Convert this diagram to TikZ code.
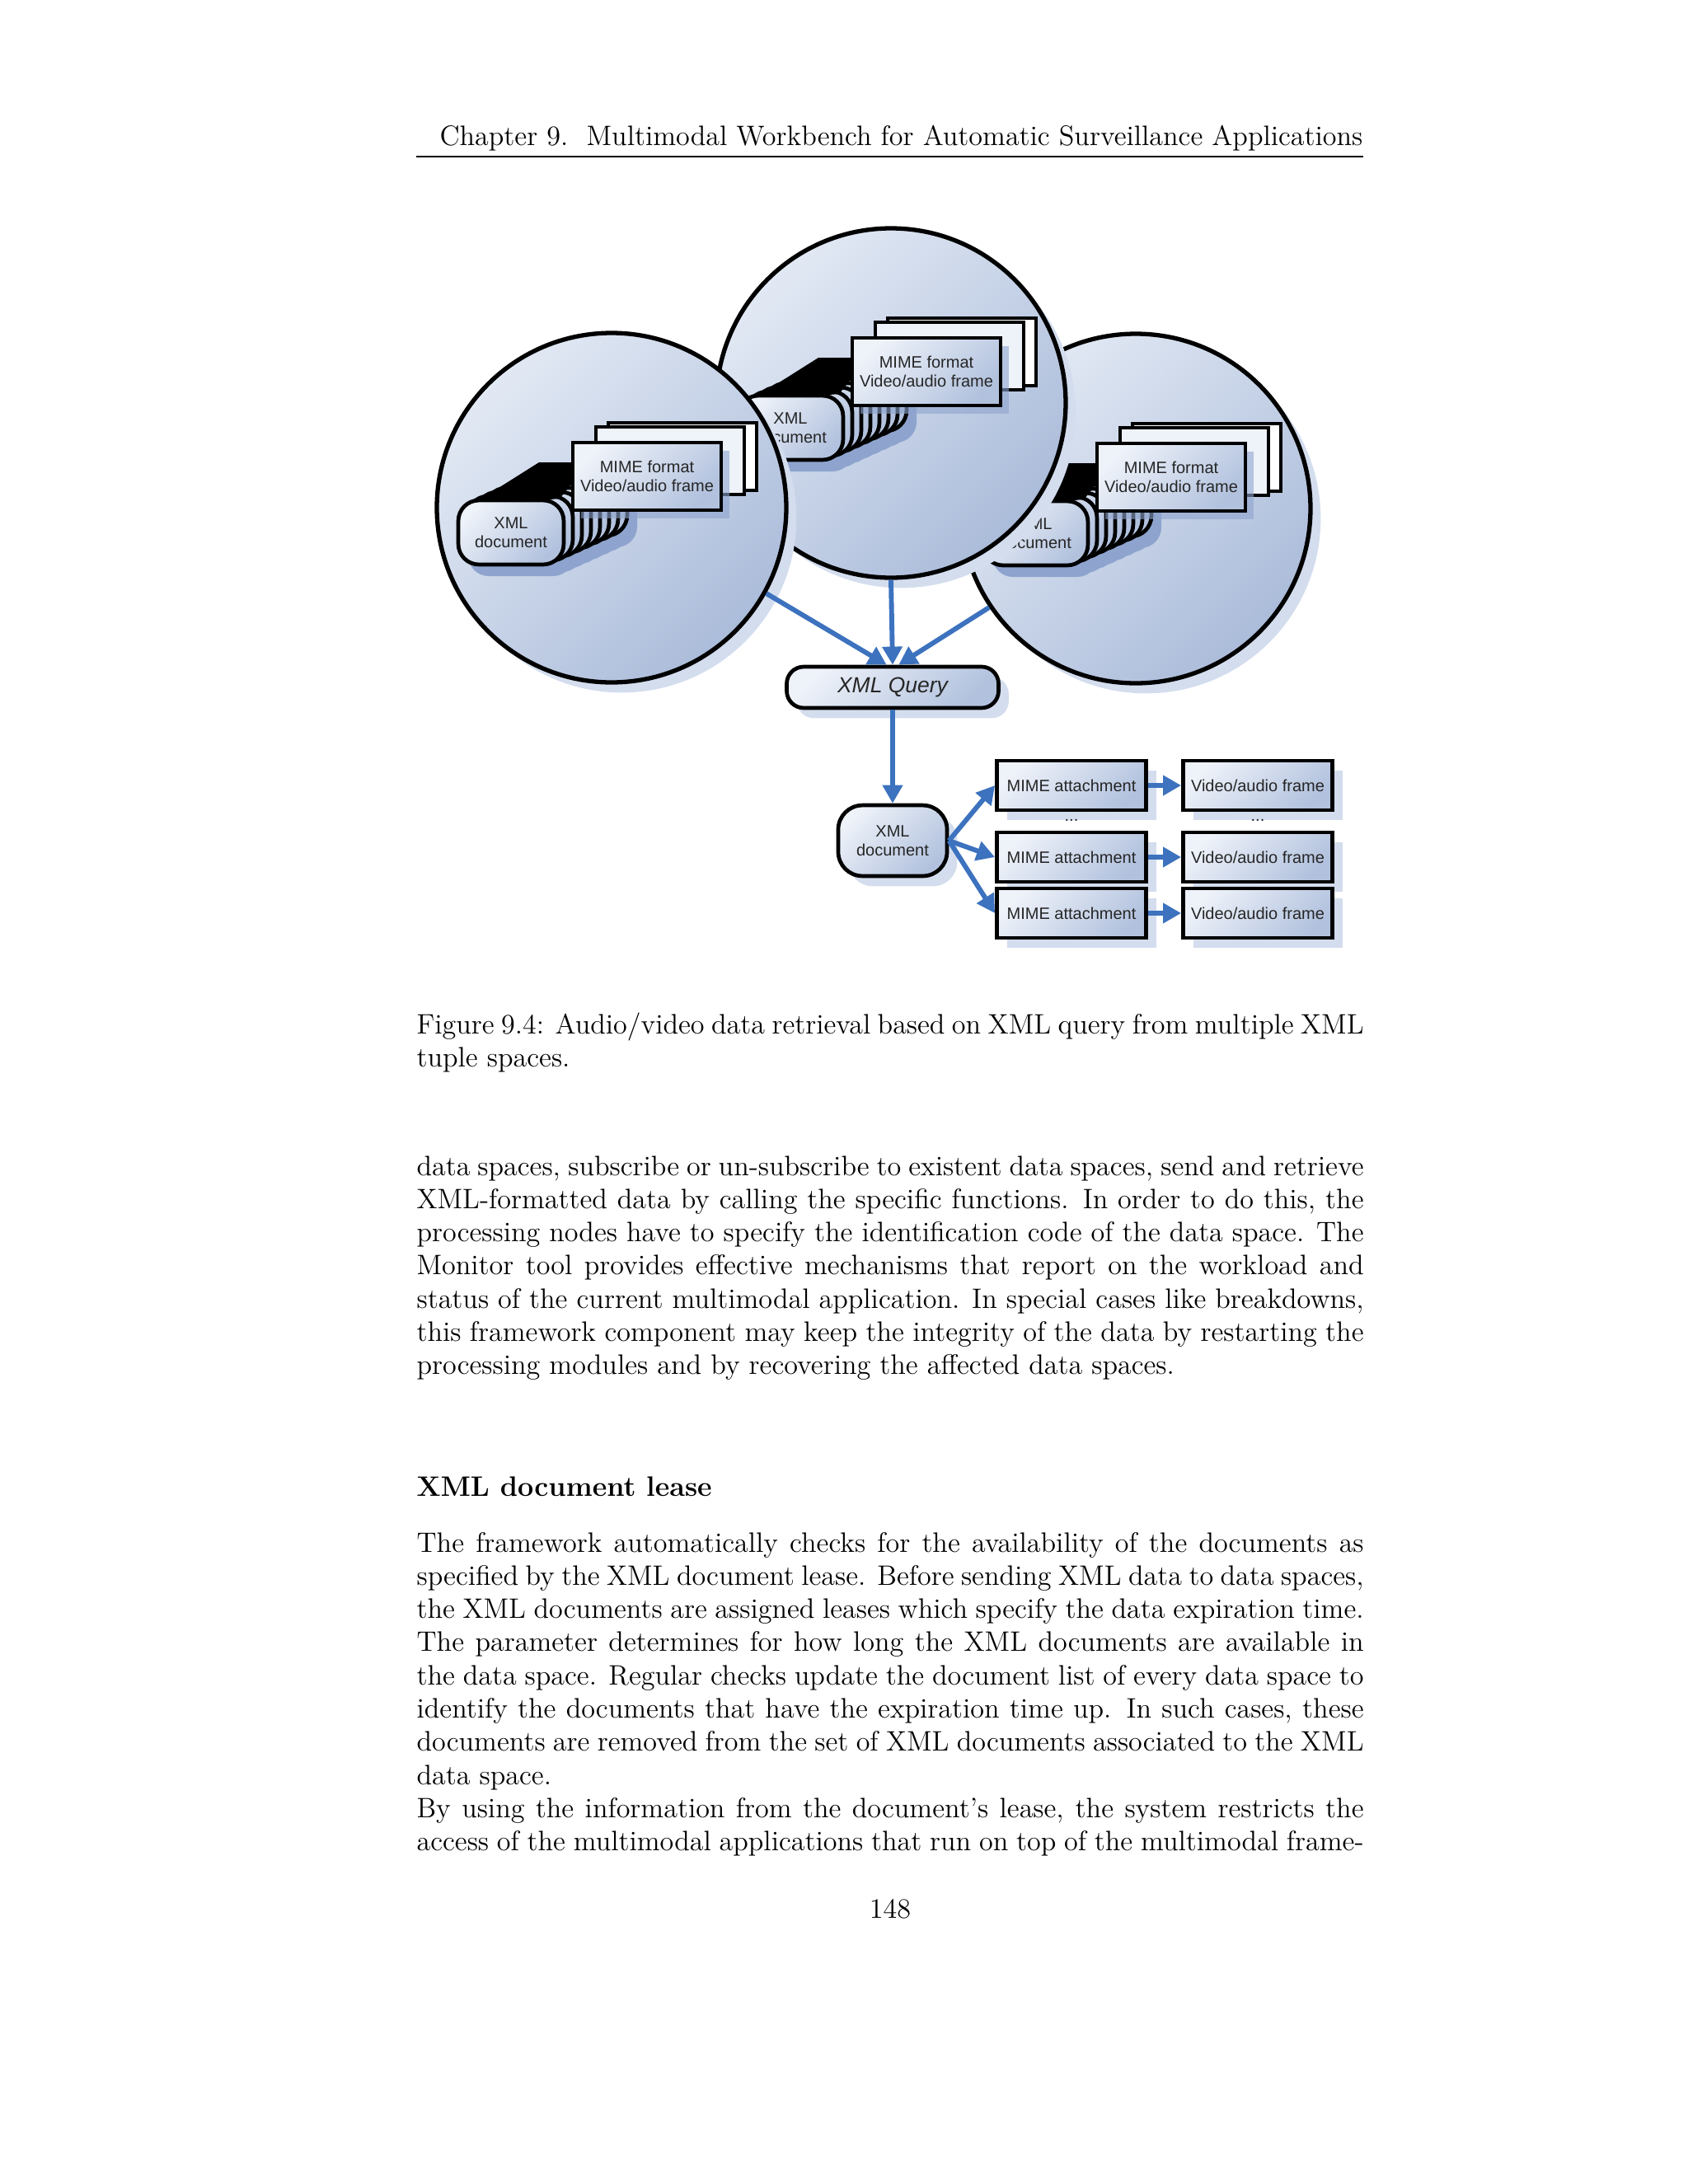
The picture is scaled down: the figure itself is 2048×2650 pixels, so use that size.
\documentclass[tikz,border=0pt]{standalone}
\usepackage{fontspec}
\newfontfamily\arial{Liberation Sans}
\usepackage{tikz}
\usetikzlibrary{arrows.meta,positioning,shadows}
\usepackage{xcolor}
\definecolor{spacelight}{HTML}{E2E9F4}
\definecolor{spacedark}{HTML}{ABBCDA}
\definecolor{boxlight}{HTML}{EEF2F9}
\definecolor{boxdark}{HTML}{B2C2DE}
\definecolor{haze}{HTML}{D3DDEE}
\definecolor{stackshade}{HTML}{8EA4CE}
\definecolor{flowblue}{HTML}{3C72BE}

\begin{document}
\begin{tikzpicture}[
  x=0.3401pt, y=-0.3401pt,
  figtext/.style={font=\arial\fontsize{6.8}{7.8}\selectfont, text=black!85, align=center},
  lifted/.style={drop shadow={shadow xshift=4.2pt, shadow yshift=-4.2pt, fill=haze, opacity=1}},
  tuplespace/.style={circle, draw, line width=1.8pt, minimum size=144.2pt, inner sep=0pt,
    top color=spacelight, bottom color=spacedark, shading angle=45, lifted},
  box/.style={figtext, draw, line width=1.6pt, inner sep=0pt,
    top color=boxlight, bottom color=boxdark, shading angle=45},
  doc/.style={box, rounded corners=8.5pt, minimum width=43.5pt, minimum height=26.5pt},
  mime/.style={box, minimum width=61.2pt, minimum height=27.9pt},
  mimeback/.style={draw, line width=1.6pt, inner sep=0pt, minimum width=61.2pt, minimum height=27.9pt},
  query/.style={box, rounded corners=7pt, minimum width=87.4pt, minimum height=17pt,
    font=\arial\itshape\fontsize{9}{10}\selectfont, lifted},
  att/.style={box, minimum width=61.6pt, minimum height=20.4pt, lifted},
  flow/.style={-{Triangle[length=7.5pt,width=8pt]}, line width=2pt, draw=flowblue},
  page/.style={inner sep=0pt, font=\fontsize{11.6}{13.7}\selectfont},
  para/.style={page, text width=390.8pt, align=justify, anchor=base west}
]
\path[use as bounding box, fill=white] (0,0) rectangle (2048,2650);

% running head
\node[page, anchor=base east] (head) at (1654,176)
  {Chapter 9.\ \ Multimodal Workbench for Automatic Surveillance Applications};
\coordinate (ruleL) at (505,190);
\coordinate (ruleR) at (1654,190);
\draw[line width=0.7pt] (ruleL) -- (ruleR);

% the three tuple spaces, back to front
\foreach \sp/\cx/\cy in {R/1378/617, M/1081/489, L/742/616}{
  \node[tuplespace] (space\sp) at (\cx,\cy) {};
  \begin{scope}[shift={(\cx,\cy)}]
    \foreach \k in {7,...,0}
      \fill[stackshade, rounded corners=8.5pt] ({-174+11*\k},{5-5*\k}) rectangle +(128,78);
    \foreach \k in {7,...,1}
      \node[doc] (copy\sp\k) at ({-122+11*\k},{30-5*\k}) {};
    % top face of the document stack
    \fill (-172,-2) -- (-88,-55) -- (-28,-55) -- (-63,-11) -- cycle;
    \node[doc] (doc\sp) at (-122,30) {XML\\document};
    \node[mimeback, fill=white] (backB\sp) at (86,-62) {};
    \node[mimeback, fill=boxlight] (backA\sp) at (71,-57) {};
    \node[mime, drop shadow={shadow xshift=3.5pt, shadow yshift=-3.5pt, fill=stackshade, opacity=.6}]
      (mime\sp) at (43,-38) {MIME format\\Video/audio frame};
  \end{scope}
}

% query and retrieval
\node[query] (query) at (1083,834) {XML Query};
\node[doc, minimum width=44.9pt, minimum height=29.2pt, rounded corners=10pt, lifted] (xmldoc) at (1083,1020) {XML\\document};

\node[att] (att1) at (1300,953) {MIME attachment};
\node[att] (att2) at (1300,1040) {MIME attachment};
\node[att] (att3) at (1300,1108) {MIME attachment};
\node[att] (frame1) at (1526,953) {Video/audio frame};
\node[att] (frame2) at (1526,1040) {Video/audio frame};
\node[att] (frame3) at (1526,1108) {Video/audio frame};
\node[figtext] (dotsA) at (1300,995) {...};
\node[figtext] (dotsB) at (1526,995) {...};

\draw[flow] (spaceL.-29.5) -- ([xshift=-2.5pt]query.north);
\draw[flow] (spaceM.south) -- (query.north);
\draw[flow] (spaceR.214) -- ([xshift=2.5pt]query.north);
\draw[flow] (query) -- (xmldoc);
\draw[flow] (xmldoc.east) -- (att1.west);
\draw[flow] (xmldoc.east) -- (att2.west);
\draw[flow] (xmldoc.east) -- (att3.west);
\draw[flow] (att1) -- (frame1);
\draw[flow] (att2) -- (frame2);
\draw[flow] (att3) -- (frame3);

% caption and body text
\node[para] (caption) at (505,1254)
  {Figure 9.4: Audio/video data retrieval based on XML query from multiple XML\linebreak
   tuple spaces.};

\node[para] (body1) at (505,1426)
  {data spaces, subscribe or un-subscribe to existent data spaces, send and retrieve\linebreak
   XML-formatted data by calling the specific functions. In order to do this, the\linebreak
   processing nodes have to specify the identification code of the data space. The\linebreak
   Monitor tool provides effective mechanisms that report on the workload and\linebreak
   status of the current multimodal application. In special cases like breakdowns,\linebreak
   this framework component may keep the integrity of the data by restarting the\linebreak
   processing modules and by recovering the affected data spaces.};

\node[page, anchor=base west, font=\bfseries\fontsize{11.6}{13.7}\selectfont] (lease) at (505,1815)
  {XML document lease};

\node[para] (body2) at (505,1883)
  {\parfillskip=0pt
   The framework automatically checks for the availability of the documents as\linebreak
   specified by the XML document lease. Before sending XML data to data spaces,\linebreak
   the XML documents are assigned leases which specify the data expiration time.\linebreak
   The parameter determines for how long the XML documents are available in\linebreak
   the data space. Regular checks update the document list of every data space to\linebreak
   identify the documents that have the expiration time up. In such cases, these\linebreak
   documents are removed from the set of XML documents associated to the XML\linebreak
   data space.\newline
   By using the information from the document's lease, the system restricts the\linebreak
   access of the multimodal applications that run on top of the multimodal frame-};

\node[page, anchor=base] (folio) at (1080,2327) {148};

\end{tikzpicture}
\end{document}
